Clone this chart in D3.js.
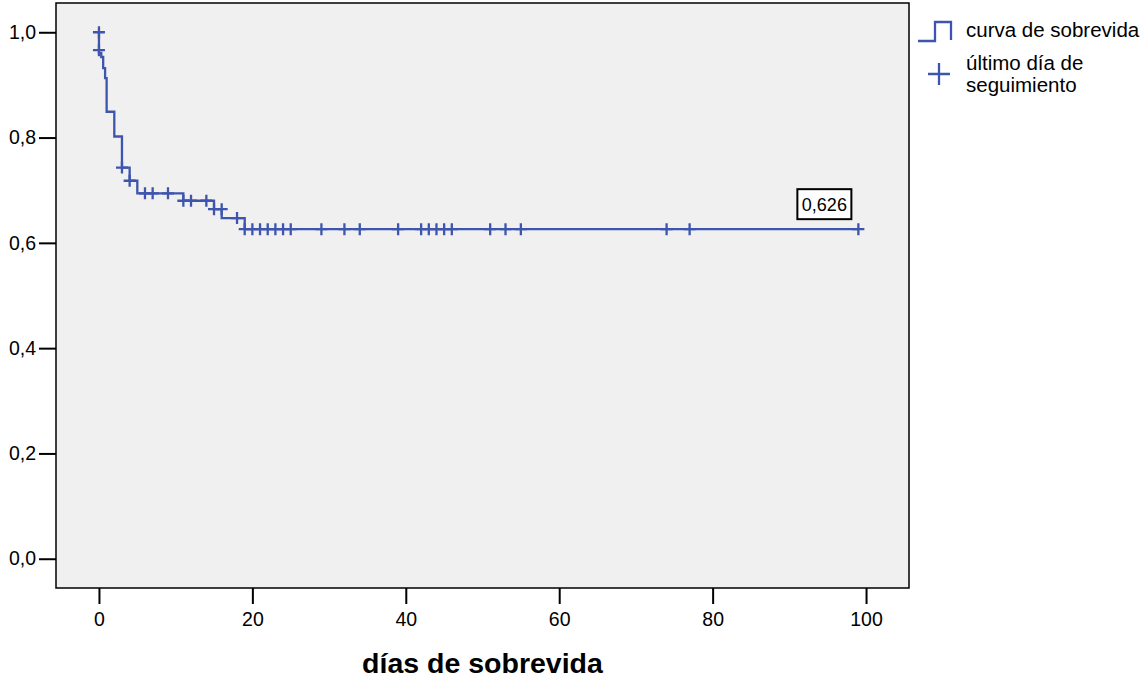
<!DOCTYPE html>
<html lang="es">
<head>
<meta charset="utf-8">
<title>curva de sobrevida</title>
<style>
  body { margin: 0; background: #fff; }
  svg { display: block; font-family: "Liberation Sans", Arial, Helvetica, sans-serif; }
  .axis text { font-size: 19.5px; fill: #000; }
  .axis line { stroke: #000; stroke-width: 2; }
  .axis path { display: none; }
</style>
</head>
<body>
<svg width="1145" height="680"></svg>
<script src="https://d3js.org/d3.v7.min.js"></script>
<script>

// survival steps (days, survival after the drop)
var stepDays = [0, 0.3, 0.55, 0.8, 1, 2, 3, 4, 5, 11, 15, 16, 19];
var stepSurv = [0.961, 0.953, 0.932, 0.913, 0.849, 0.802, 0.743, 0.718, 0.694, 0.680, 0.664, 0.647, 0.626];
var lastDay = 99;

// censored cases (last day of follow-up)
var censorDays = [0, 0, 3, 4, 6, 7, 9, 11, 12, 14, 15, 16, 18,
                  19, 20, 21, 22, 23, 24, 25, 29, 32, 34, 39, 42, 43, 44, 45, 46,
                  51, 53, 55, 74, 77, 99];
var censorSurv = [1.0, 0.966, 0.743, 0.718, 0.694, 0.694, 0.694, 0.680, 0.680, 0.680, 0.664, 0.664, 0.647,
                  0.626, 0.626, 0.626, 0.626, 0.626, 0.626, 0.626, 0.626, 0.626, 0.626, 0.626, 0.626, 0.626, 0.626, 0.626, 0.626,
                  0.626, 0.626, 0.626, 0.626, 0.626, 0.626];

var xTicks = [0, 20, 40, 60, 80, 100];
var yTicks = [0, 0.2, 0.4, 0.6, 0.8, 1.0];
var finalLabel = "0,626";

var blue = "#3d55ad";

var svg = d3.select("svg"),
    margin = {top: 3, left: 56},
    width = 853,
    height = 585;

var x = d3.scaleLinear().domain([-5.6, 105.6]).range([0, width]),
    y = d3.scaleLinear().domain([-0.0556, 1.0556]).range([height, 0]);

var g = svg.append("g")
    .attr("transform", "translate(" + margin.left + "," + margin.top + ")");

g.append("rect")
    .attr("width", width)
    .attr("height", height)
    .attr("fill", "#f0f0f0")
    .attr("stroke", "#000")
    .attr("stroke-width", 1.5);

var comma = function(d) { return d3.format(".1f")(d).replace(".", ","); };

g.append("g")
    .attr("class", "axis")
    .call(d3.axisLeft(y).tickValues(yTicks).tickSize(17).tickPadding(3).tickFormat(comma));

g.append("g")
    .attr("class", "axis")
    .attr("transform", "translate(0," + height + ")")
    .call(d3.axisBottom(x).tickValues(xTicks).tickSize(16).tickPadding(8));

g.append("text")
    .attr("x", x(50))
    .attr("y", 670)
    .attr("text-anchor", "middle")
    .attr("font-size", "28.5px")
    .attr("font-weight", "bold")
    .text("días de sobrevida");

// step curve
var pts = [[0, 1]];
stepDays.forEach(function(d, i) {
  pts.push([d, i === 0 ? 1 : stepSurv[i - 1]]);
  pts.push([d, stepSurv[i]]);
});
pts.push([lastDay, stepSurv[stepSurv.length - 1]]);

g.append("path")
    .datum(pts)
    .attr("fill", "none")
    .attr("stroke", blue)
    .attr("stroke-width", 2.3)
    .attr("d", d3.line().x(function(d) { return x(d[0]); }).y(function(d) { return y(d[1]); }));

// censor marks
var cz = 6;
g.selectAll(".censor")
    .data(censorDays)
    .enter().append("path")
    .attr("class", "censor")
    .attr("fill", "none")
    .attr("stroke", blue)
    .attr("stroke-width", 2.3)
    .attr("d", function(d, i) {
      var cx = x(d), cy = y(censorSurv[i]);
      return "M" + (cx - cz) + "," + cy + "H" + (cx + cz) + "M" + cx + "," + (cy - cz) + "V" + (cy + cz);
    });

// final value label
var lx = x(lastDay), ly = y(stepSurv[stepSurv.length - 1]);
g.append("rect")
    .attr("x", lx - 61)
    .attr("y", ly - 40)
    .attr("width", 54)
    .attr("height", 30)
    .attr("fill", "#fff")
    .attr("stroke", "#000")
    .attr("stroke-width", 2);
g.append("text")
    .attr("x", lx - 34)
    .attr("y", ly - 18)
    .attr("text-anchor", "middle")
    .attr("font-size", "18px")
    .text(finalLabel);

// legend
var lg = svg.append("g");
lg.append("path")
    .attr("d", "M918,41H935V22H951V40")
    .attr("fill", "none")
    .attr("stroke", blue)
    .attr("stroke-width", 2.3);
lg.append("text").attr("x", 966).attr("y", 37).attr("font-size", "20.5px").text("curva de sobrevida");
lg.append("path")
    .attr("d", "M928,74H950M939,63V85")
    .attr("fill", "none")
    .attr("stroke", blue)
    .attr("stroke-width", 2.3);
lg.append("text").attr("x", 966).attr("y", 70).attr("font-size", "20.5px").text("último día de");
lg.append("text").attr("x", 966).attr("y", 92).attr("font-size", "20.5px").text("seguimiento");

</script>
</body>
</html>
